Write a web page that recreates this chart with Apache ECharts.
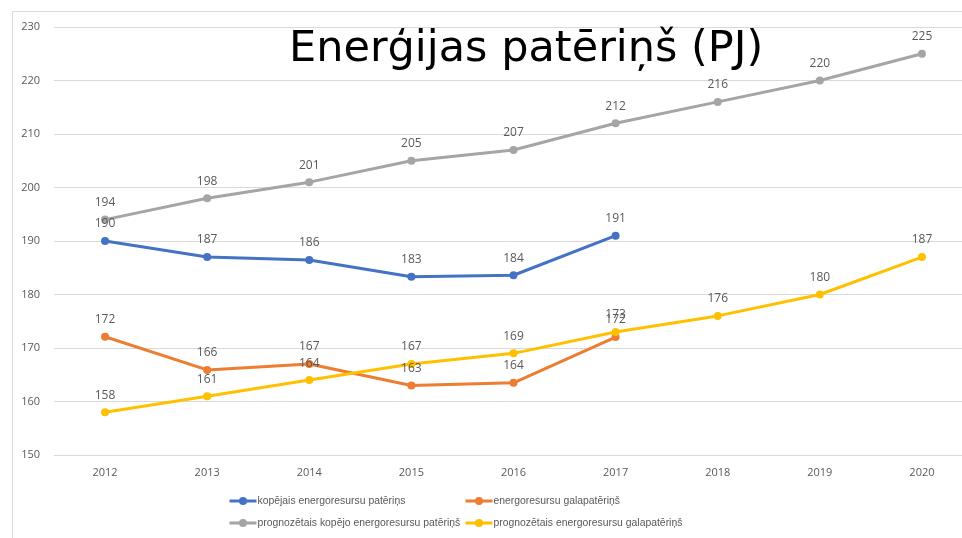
<!DOCTYPE html>
<html>
  <head>
    <meta charset="utf-8" />
    <script src="https://cdn.jsdelivr.net/npm/echarts@6.0.0/dist/echarts.min.js"></script>
    <style>
      html, body { margin: 0; padding: 0; background: #fff; }
    </style>
  </head>
  <body>
    <div id="main" style="width: 962px;height:538px;"></div>
    <script type="text/javascript">
      var myChart = echarts.init(document.getElementById('main'));

      // data
      const years = ['2012', '2013', '2014', '2015', '2016', '2017', '2018', '2019', '2020'];
      const kopejais = [190, 187, 186.45, 183.3, 183.6, 191];
      const galapaterins = [172.1, 165.9, 167, 163, 163.5, 172.05];
      const prognozKopejais = [194, 198, 201, 205, 207, 212, 216, 220, 225];
      const prognozGala = [158, 161, 164, 167, 169, 173, 176, 180, 187];
      const yTicks = { min: 150, max: 230, interval: 10 };

      const names = [
        'kopējais energoresursu patēriņs',
        'energoresursu galapatēriņš',
        'prognozētais kopējo energoresursu patēriņš',
        'prognozētais energoresursu galapatēriņš'
      ];
      const colorList = ['#4472C4', '#ED7D31', '#A5A5A5', '#FFC000'];
      const textColor = '#595959';
      const fontFamily = '"Open Sans", "Noto Sans", sans-serif';
      const legendFont = '"Liberation Sans", Arial, sans-serif';

      function makeSeries(name, data, color) {
        return {
          name: name,
          type: 'line',
          data: data,
          symbol: 'circle',
          symbolSize: 8,
          lineStyle: { width: 3, color: color },
          itemStyle: { color: color },
          label: {
            show: true,
            position: 'top',
            distance: 7,
            color: textColor,
            fontSize: 12,
            fontFamily: fontFamily,
            formatter: p => Math.round(p.value)
          }
        };
      }

      const legendPos = [[228, 496], [464, 496], [228, 518], [464, 518]];

      option = {
        animation: false,
        color: colorList,
        title: {
          text: 'Enerģijas patēriņš (PJ)',
          left: 284,
          top: 23,
          textStyle: { fontSize: 43, fontWeight: 'normal', color: '#000', fontFamily: '"DejaVu Sans", sans-serif' }
        },
        legend: names.map((n, i) => ({
          data: [n],
          left: legendPos[i][0],
          top: legendPos[i][1],
          padding: 0,
          itemWidth: 27,
          itemHeight: 10,
          itemGap: 3,
          lineStyle: { width: 3 },
          textStyle: { color: textColor, fontSize: 10.4, fontFamily: legendFont, padding: [0, 0, 0, -4] }
        })),
        graphic: [
          { type: 'rect',
            shape: { x: 12.5, y: 11.5, width: 1000, height: 600 },
            style: { fill: 'none', stroke: '#d9d9d9', lineWidth: 1 },
            silent: true
          }
        ],
        grid: {
          left: 54,
          top: 27,
          width: 919,
          height: 428,
          outerBoundsMode: 'none'
        },
        xAxis: {
          type: 'category',
          data: years,
          boundaryGap: true,
          axisLine: { show: false },
          axisTick: { show: false },
          axisLabel: { color: textColor, fontSize: 11, fontFamily: fontFamily, margin: 12 }
        },
        yAxis: {
          type: 'value',
          min: yTicks.min,
          max: yTicks.max,
          interval: yTicks.interval,
          axisLine: { show: false },
          axisTick: { show: false },
          splitLine: { lineStyle: { color: '#d9d9d9', width: 1 } },
          axisLabel: { color: textColor, fontSize: 11, fontFamily: fontFamily, margin: 14 }
        },
        series: [
          makeSeries(names[0], kopejais, colorList[0]),
          makeSeries(names[1], galapaterins, colorList[1]),
          makeSeries(names[2], prognozKopejais, colorList[2]),
          makeSeries(names[3], prognozGala, colorList[3])
        ]
      };

      myChart.setOption(option);
    </script>
  </body>
</html>
